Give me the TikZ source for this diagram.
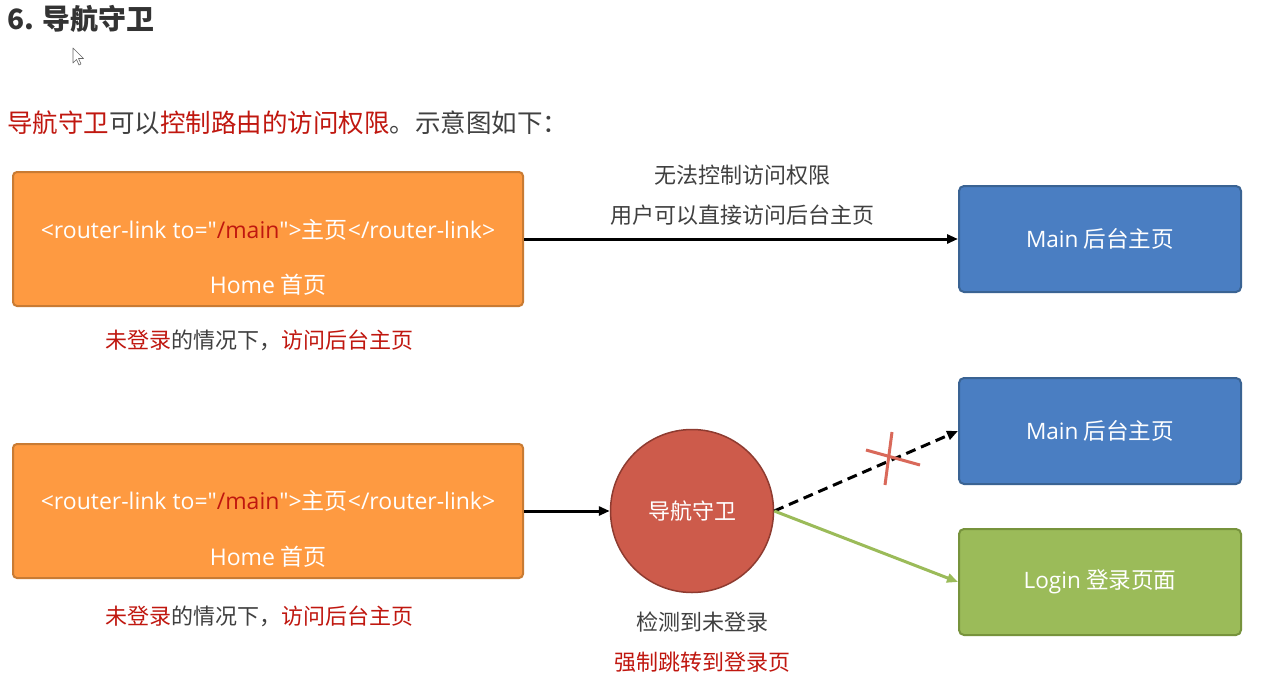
\documentclass[tikz,border=0pt]{standalone}
\usepackage{fontspec}
\setmainfont{Noto Sans CJK SC}
\newfontfamily\lat{Open Sans}
\usetikzlibrary{arrows.meta}
\definecolor{orfill}{HTML}{FE9A41}
\definecolor{ordraw}{HTML}{C97B33}
\definecolor{blfill}{HTML}{4A7EC2}
\definecolor{bldraw}{HTML}{3A6393}
\definecolor{rdfill}{HTML}{CD5B4B}
\definecolor{rddraw}{HTML}{8E3B30}
\definecolor{grfill}{HTML}{9BBB59}
\definecolor{grdraw}{HTML}{77933C}
\definecolor{redtxt}{HTML}{C0170F}
\definecolor{graytxt}{HTML}{404040}
\definecolor{crosscol}{HTML}{D9695A}
\newcommand{\rlink}{{\lat <router-link to="\textcolor{redtxt}{/main}">}主页{\lat </router-link>}}
\begin{document}
\begin{tikzpicture}[x=1pt,y=-1pt,
  orbox/.style={draw=ordraw,fill=orfill,line width=2pt,rounded corners=4pt,minimum width=510pt,minimum height=134pt,inner sep=0pt},
  blbox/.style={draw=bldraw,fill=blfill,line width=2pt,rounded corners=5pt,minimum width=282pt,minimum height=106pt,inner sep=0pt,text=white,font=\fontsize{22.6}{26}\selectfont},
  grbox/.style={blbox,draw=grdraw,fill=grfill},
  guard/.style={circle,draw=rddraw,fill=rdfill,line width=1.5pt,minimum size=163pt,inner sep=0pt,text=white,font=\fontsize{22}{26}\selectfont},
  wtext/.style={text=white,font=\fontsize{23}{26}\selectfont,inner sep=0pt},
  lbl/.style={text=graytxt,font=\fontsize{22}{26}\selectfont,inner sep=0pt},
  conn/.style={line width=3pt,-{Triangle[length=11pt,width=9pt]}},
]
\useasboundingbox[fill=white] (0,0) rectangle (1263,677);
% heading
\node[anchor=west,inner sep=0pt,text=black!80,font=\fontsize{28}{32}\selectfont\bfseries] (title) at (7,19) {6. 导航守卫};
\node[anchor=west,inner sep=0pt,text=graytxt,font=\fontsize{25.5}{30}\selectfont] (intro) at (7,123)
  {\textcolor{redtxt}{导航守卫}可以\textcolor{redtxt}{控制路由的访问权限}。示意图如下：};
% cursor
\draw[fill=white,draw=black!60,line width=0.6pt,line join=round] (73,48) -- (73,63) -- (76.5,59.5) -- (79,65) -- (81,64) -- (78.5,58.5) -- (83.5,58.5) -- cycle;
% top row
\node[orbox] (home1) at (268,239) {};
\node[wtext] (rl1) at (268,230) {\rlink};
\node[wtext] (hm1) at (268,285) {{\lat Home} 首页};
\node[lbl] (note1) at (259,340) {\textcolor{redtxt}{未登录}的情况下，\textcolor{redtxt}{访问后台主页}};
\node[blbox] (main1) at (1100,239) {{\lat Main} 后台主页};
\draw[conn] (home1.east) -- (main1.west);
\node[lbl] (t1) at (742,175) {无法控制访问权限};
\node[lbl] (t2) at (742,215) {用户可以直接访问后台主页};
% bottom row
\node[orbox] (home2) at (268,511) {};
\node[wtext] (rl2) at (268,501) {\rlink};
\node[wtext] (hm2) at (268,557) {{\lat Home} 首页};
\node[lbl] (note2) at (259,616) {\textcolor{redtxt}{未登录}的情况下，\textcolor{redtxt}{访问后台主页}};
\node[guard] (g) at (692,511) {导航守卫};
\draw[conn] (home2.east) -- (g.west);
\node[blbox] (main2) at (1100,431) {{\lat Main} 后台主页};
\node[grbox] (login) at (1100,582) {{\lat Login} 登录页面};
\draw[conn,dash pattern=on 10pt off 6pt] (g.east) -- (main2.west);
\draw[conn,draw=grfill,fill=grfill] (g.east) -- (login.west);
\draw[crosscol,line width=3pt] (866,450) -- (920,465);
\draw[crosscol,line width=3pt] (892,432) -- (885,485);
\node[lbl] (d1) at (702,622) {检测到未登录};
\node[lbl,text=redtxt] (d2) at (702,662) {强制跳转到登录页};
\end{tikzpicture}
\end{document}
